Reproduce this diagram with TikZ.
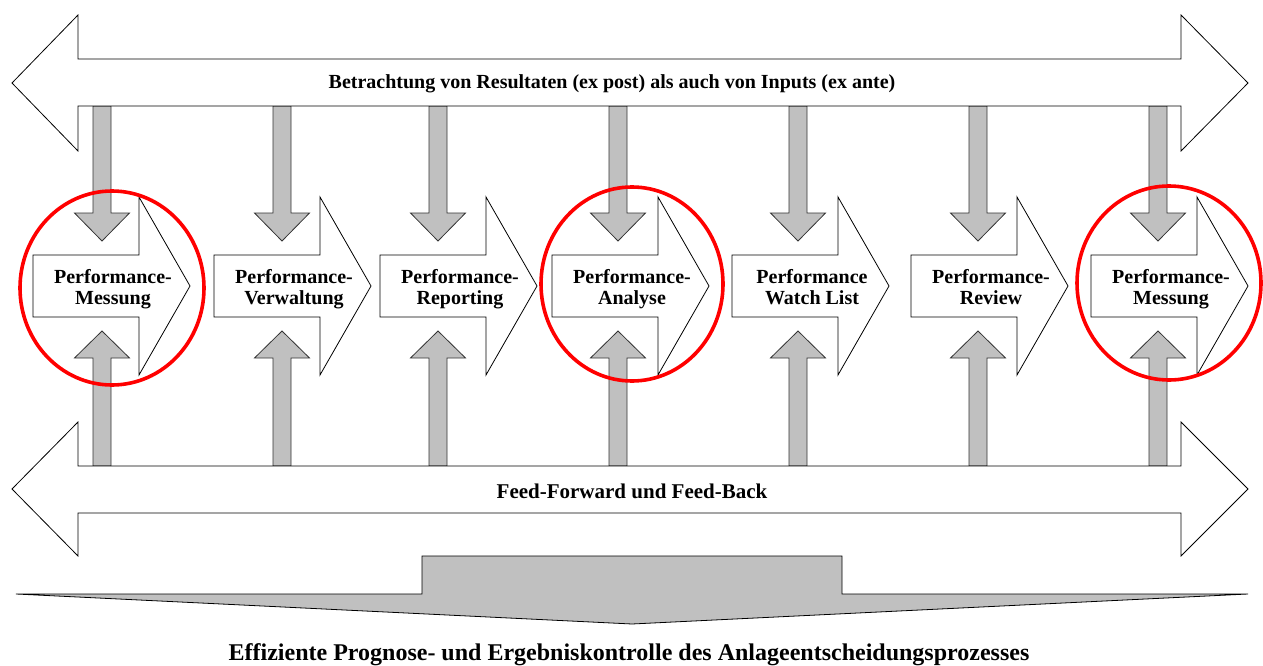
\documentclass[tikz,border=0pt]{standalone}
\usepackage{fontspec}
\setmainfont{Liberation Serif}
\definecolor{arrowgray}{HTML}{C0C0C0}
\definecolor{ringred}{HTML}{FF0000}
\tikzset{
  bigarrow/.style={draw=black, line width=0.8pt, fill=white, line join=miter},
  grayarrow/.style={draw=black!80, line width=0.8pt, fill=arrowgray, line join=miter},
  ring/.style={draw=ringred, line width=3.6pt},
  lbl/.style={font=\fontsize{20}{21}\selectfont\bfseries, align=center, inner sep=0pt},
  bandtext/.style={font=\fontsize{20}{24}\selectfont\bfseries, inner sep=0pt},
}
\begin{document}
\begin{tikzpicture}[x=1pt,y=-1pt]
\useasboundingbox (0,0) rectangle (1263,666);

% gray vertical arrows (behind the bands)
\foreach \c [count=\i] in {102,282,438,618,798,978,1158}{
  \draw[grayarrow] (\c-9,106) coordinate (dtop\i) -- (\c+9,106) -- (\c+9,213) -- (\c+27.5,213)
     -- (\c,241) coordinate (dtip\i) -- (\c-27.5,213) -- (\c-9,213) -- cycle;
  \draw[grayarrow] (\c-9,466) coordinate (ubot\i) -- (\c-9,358) -- (\c-27.5,358)
     -- (\c,331) coordinate (utip\i) -- (\c+27.5,358) -- (\c+9,358) -- (\c+9,466) -- cycle;
}

% top double arrow
\draw[bigarrow] (12,83) -- (78,15) -- (78,59) -- (1181,59) -- (1181,15) -- (1248,83)
  -- (1181,151) -- (1181,106) -- (78,106) -- (78,151) -- cycle;
\node[bandtext] (toptext) at (612,84) {Betrachtung von Resultaten (ex post) als auch von Inputs (ex ante)};

% bottom double arrow
\draw[bigarrow] (12,489) -- (78,422) -- (78,466) -- (1181,466) -- (1181,422) -- (1248,489)
  -- (1181,556) -- (1181,513) -- (78,513) -- (78,556) -- cycle;
\node[bandtext, font=\fontsize{21}{24}\selectfont\bfseries] (bottext) at (632,491) {Feed-Forward und Feed-Back};

% process chevrons
\foreach \L/\t [count=\i] in {33/{Performance-\\Messung},214/{Performance-\\Verwaltung},
  380/{Performance-\\Reporting},552/{Performance-\\Analyse},732/{Performance\\Watch List},
  911/{Performance-\\Review},1091/{Performance-\\Messung}}{
  \draw[bigarrow] (\L,255) -- (\L+106,255) -- (\L+106,197) -- (\L+157,286) -- (\L+106,375)
    -- (\L+106,317) -- (\L,317) -- cycle;
  \node[lbl] (step\i) at (\L+80,289.5) {\t\vphantom{g}};
}

% result arrow
\draw[grayarrow, draw=black] (16,594) -- (422,594) -- (422,556) -- (842,556) -- (842,594)
  -- (1248,594) -- (632,624) -- cycle;
\node[font=\fontsize{24}{28}\selectfont\bfseries, inner sep=0pt] (result) at (629,655)
  {Effiziente Prognose- und Ergebniskontrolle des Anlageentscheidungsprozesses};

% red rings
\draw[ring] (112,288) ellipse [x radius=92, y radius=97];
\draw[ring] (632,284) ellipse [x radius=91, y radius=97];
\draw[ring] (1169,283) ellipse [x radius=92, y radius=97];
\end{tikzpicture}
\end{document}
